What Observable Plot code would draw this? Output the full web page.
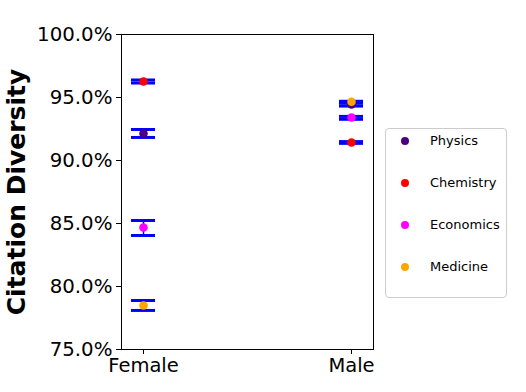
<!DOCTYPE html>
<html>
<head>
<meta charset="utf-8">
<script src="https://cdn.jsdelivr.net/npm/d3@7"></script>
<script src="https://cdn.jsdelivr.net/npm/@observablehq/plot@0.6"></script>
<style>
  html, body { margin: 0; padding: 0; background: #fff; }
  #wrap { position: relative; width: 526px; height: 392px; font-family: "DejaVu Sans", sans-serif; }
  #wrap svg g[aria-label="y-axis label"] text { font-size: 25px; font-weight: bold; }
  #legend { position: absolute; left: 385px; top: 128px; width: 122px; height: 170px;
    border: 1px solid #cccccc; border-radius: 4px; box-sizing: border-box; background: #fff; }
  .item { position: absolute; left: 0; height: 14px; font-size: 13px; line-height: 14px; color: #000; }
  .item .sw { position: absolute; left: 15px; top: 3px; width: 8px; height: 8px; border-radius: 50%; }
  .item .lb { position: absolute; left: 44px; top: 0; white-space: nowrap; }
</style>
</head>
<body>
<div id="wrap"></div>
<script>
const genders = ["Female", "Male"];
const fields = ["Physics", "Chemistry", "Economics", "Medicine"];
const fieldColors = ["#4b0082", "#ff0000", "#ff00ff", "#ffa500"];
// values in percent, order follows fields
const femaleMean  = [92.14, 96.27, 84.68, 78.49];
const femaleLower = [91.83, 96.15, 84.05, 78.10];
const femaleUpper = [92.46, 96.39, 85.24, 78.89];
const maleMean    = [94.44, 91.43, 93.41, 94.66];
const maleLower   = [94.32, 91.36, 93.27, 94.55];
const maleUpper   = [94.58, 91.50, 93.50, 94.70];
const yTicks = [75, 80, 85, 90, 95, 100];

const rows = [];
fields.forEach((f, i) => {
  rows.push({gender: "Female", field: f, mean: femaleMean[i], lo: femaleLower[i], hi: femaleUpper[i]});
  rows.push({gender: "Male", field: f, mean: maleMean[i], lo: maleLower[i], hi: maleUpper[i]});
});

const chart = Plot.plot({
  width: 526,
  height: 392,
  marginLeft: 121,
  marginRight: 153,
  marginTop: 34,
  marginBottom: 43,
  style: {fontFamily: "DejaVu Sans", fontSize: "20px", color: "#000", background: "#fff"},
  x: {domain: genders, paddingInner: 0.8846, paddingOuter: 0.048, label: null},
  y: {domain: [75, 100], label: null},
  color: {domain: fields, range: fieldColors},
  marks: [
    Plot.frame({stroke: "#000", strokeWidth: 1}),
    Plot.axisX({tickSize: 5, tickPadding: 4, fontSize: 19.5, label: null}),
    Plot.axisY({ticks: yTicks, tickSize: 5, tickPadding: 4, fontSize: 19.8,
      tickFormat: d => d.toFixed(1) + "%",
      label: "Citation Diversity", labelAnchor: "center", labelArrow: "none", labelOffset: 114}),
    Plot.ruleX(rows, {x: "gender", y1: "lo", y2: "hi", stroke: "#0000ff", strokeWidth: 1.5}),
    Plot.tickY(rows, {x: "gender", y: "lo", stroke: "#0000ff", strokeWidth: 3}),
    Plot.tickY(rows, {x: "gender", y: "hi", stroke: "#0000ff", strokeWidth: 3}),
    Plot.dot(rows, {x: "gender", y: "mean", fill: "field", r: 4.3, stroke: "none"})
  ]
});

const wrap = document.getElementById("wrap");
wrap.appendChild(chart);

const legend = document.createElement("div");
legend.id = "legend";
fields.forEach((f, i) => {
  const it = document.createElement("div");
  it.className = "item";
  it.style.top = (5 + i * 42) + "px";
  it.innerHTML = `<span class="sw" style="background:${fieldColors[i]}"></span><span class="lb">${f}</span>`;
  legend.appendChild(it);
});
wrap.appendChild(legend);
</script>
</body>
</html>
